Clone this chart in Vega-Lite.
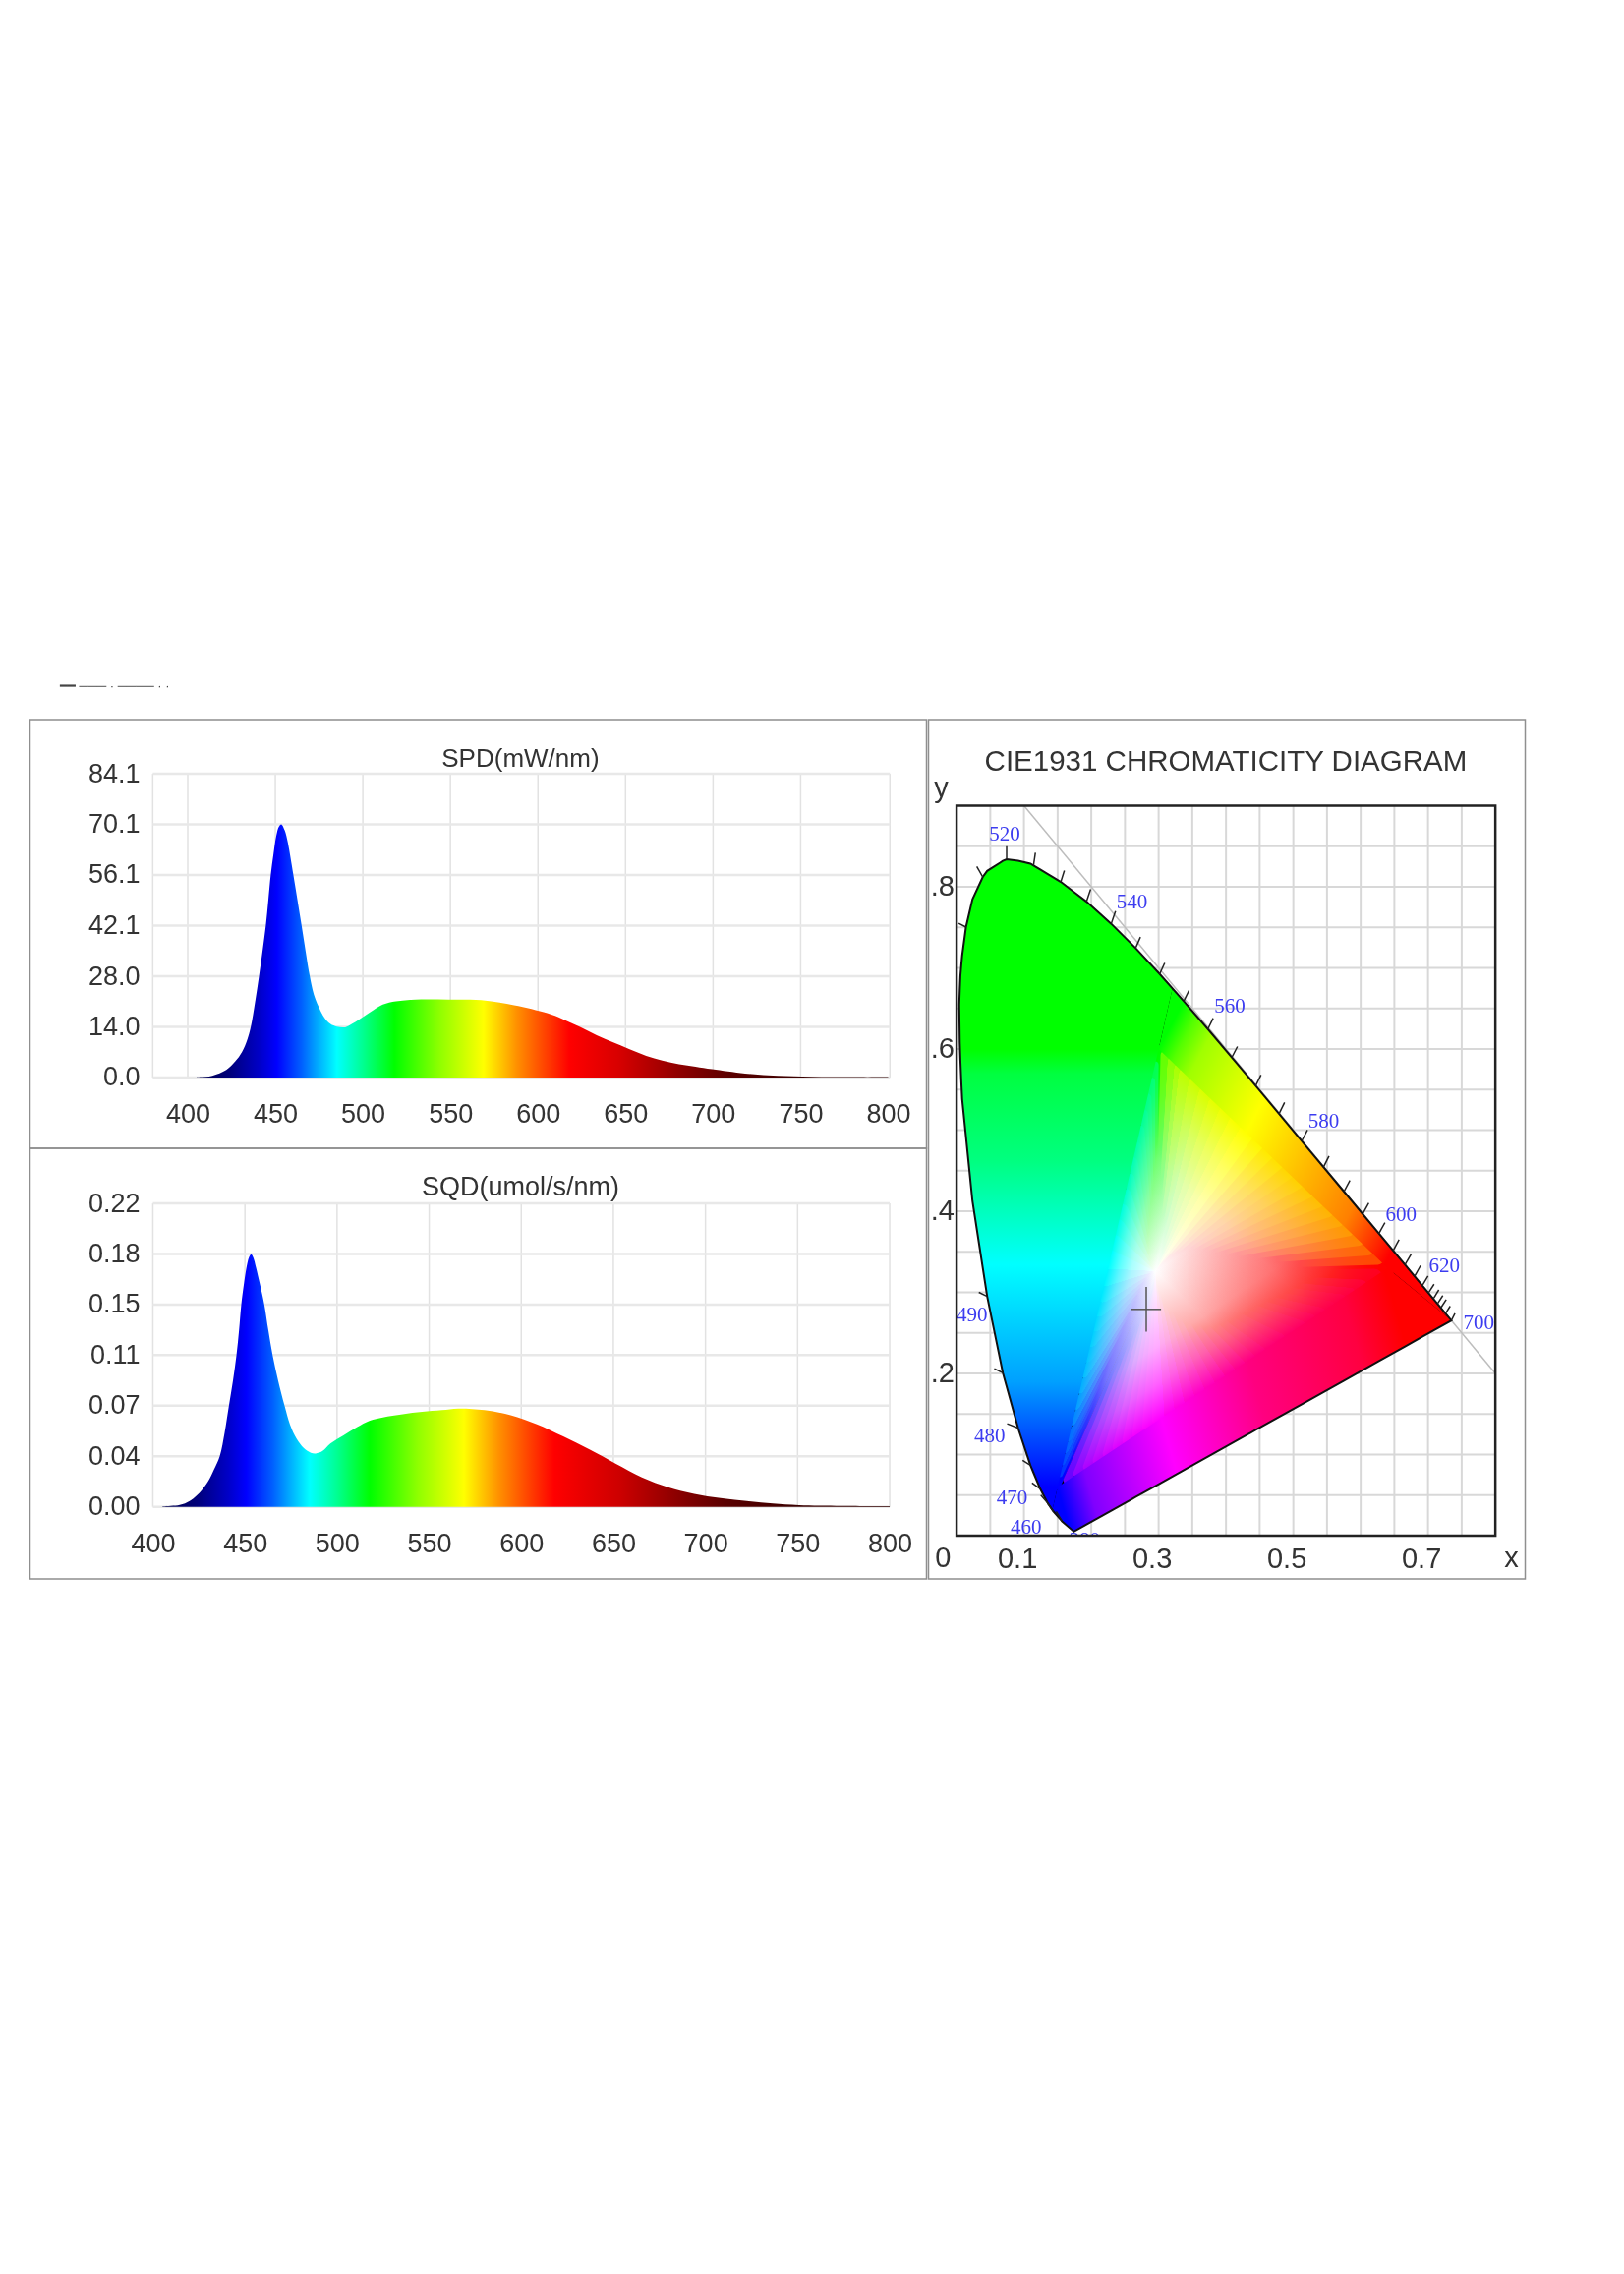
{
"$schema":"https://vega.github.io/schema/vega-lite/v6.json",
"background":"#ffffff",
"padding":{"left":29.5,"top":690,"right":0,"bottom":0},
"config":{"view":{"stroke":"#8f8f8f","strokeWidth":1.5},"axis":{"labelFont":"Liberation Sans","labelFontSize":27,"labelColor":"#333333","domain":false,"ticks":false,"grid":false,"title":null,"labelPadding":0,"labelOverlap":false,"labelFlush":false}},
"datasets":{
"spd":[{"nm":405,"val":0},{"nm":407,"val":0.1},{"nm":414,"val":0.5},{"nm":422,"val":2.1},{"nm":427,"val":4.4},{"nm":431,"val":7.1},{"nm":434,"val":10.5},{"nm":436,"val":14},{"nm":438.5,"val":21},{"nm":440.7,"val":28},{"nm":442.7,"val":35},{"nm":444.6,"val":42.1},{"nm":446,"val":49},{"nm":447.4,"val":56.1},{"nm":449,"val":62},{"nm":450.6,"val":67},{"nm":452,"val":69.4},{"nm":453.4,"val":70.1},{"nm":455.3,"val":68.5},{"nm":457.2,"val":65},{"nm":458.7,"val":60.8},{"nm":460.3,"val":56.1},{"nm":462.7,"val":49},{"nm":465,"val":42.1},{"nm":467.3,"val":35},{"nm":469.7,"val":28},{"nm":472,"val":23},{"nm":475,"val":19.3},{"nm":478,"val":16.6},{"nm":481.5,"val":14.8},{"nm":485.2,"val":14.1},{"nm":489.9,"val":13.9},{"nm":493.7,"val":14.8},{"nm":498.3,"val":16.2},{"nm":504,"val":18},{"nm":511.4,"val":20.2},{"nm":518.9,"val":21.1},{"nm":530,"val":21.6},{"nm":548.9,"val":21.6},{"nm":567.6,"val":21.4},{"nm":586.4,"val":20},{"nm":605.3,"val":17.8},{"nm":614,"val":16.2},{"nm":624,"val":14},{"nm":633.5,"val":11.7},{"nm":643,"val":9.7},{"nm":652,"val":7.9},{"nm":661.8,"val":6},{"nm":671,"val":4.7},{"nm":680.6,"val":3.7},{"nm":690,"val":3},{"nm":699.5,"val":2.3},{"nm":718.3,"val":1.1},{"nm":737,"val":0.45},{"nm":756,"val":0.2},{"nm":780,"val":0.1},{"nm":800,"val":0.1}],
"sqd":[{"nm":405,"val":0},{"nm":405.7,"val":0.0003},{"nm":414.6,"val":0.0014},{"nm":420,"val":0.0043},{"nm":425.3,"val":0.0102},{"nm":430,"val":0.0185},{"nm":433,"val":0.0265},{"nm":436.3,"val":0.0367},{"nm":439,"val":0.054},{"nm":441.3,"val":0.0733},{"nm":443.5,"val":0.0915},{"nm":445.4,"val":0.11},{"nm":446.8,"val":0.128},{"nm":448,"val":0.1467},{"nm":449.6,"val":0.163},{"nm":451.2,"val":0.176},{"nm":452.4,"val":0.1815},{"nm":453.4,"val":0.1832},{"nm":454.6,"val":0.1805},{"nm":455.9,"val":0.174},{"nm":458.2,"val":0.161},{"nm":460.5,"val":0.1467},{"nm":462.7,"val":0.128},{"nm":465,"val":0.11},{"nm":468,"val":0.0915},{"nm":471.5,"val":0.0733},{"nm":474.5,"val":0.0595},{"nm":478,"val":0.0495},{"nm":482,"val":0.0425},{"nm":485.8,"val":0.0392},{"nm":488.4,"val":0.0387},{"nm":492,"val":0.0404},{"nm":496.4,"val":0.0459},{"nm":503.5,"val":0.0518},{"nm":510.7,"val":0.0577},{"nm":517.8,"val":0.0625},{"nm":524.9,"val":0.0649},{"nm":535.6,"val":0.0672},{"nm":546.2,"val":0.0689},{"nm":556.9,"val":0.0701},{"nm":565.8,"val":0.0713},{"nm":580,"val":0.0701},{"nm":594.3,"val":0.0665},{"nm":608.5,"val":0.0599},{"nm":622.8,"val":0.0511},{"nm":637,"val":0.0416},{"nm":651.2,"val":0.0314},{"nm":665.5,"val":0.0214},{"nm":679.7,"val":0.0143},{"nm":693.9,"val":0.0095},{"nm":708.2,"val":0.0064},{"nm":722.4,"val":0.0043},{"nm":736.6,"val":0.0024},{"nm":750.8,"val":0.0012},{"nm":774,"val":0.0007},{"nm":800,"val":0.0005}],
"gamut":[{"cx":0.0039,"cy":0.6548,"cy2":0.6548},{"cx":0.0047,"cy":0.672,"cy2":0.608},{"cx":0.0056,"cy":0.69,"cy2":0.586},{"cx":0.0069,"cy":0.703,"cy2":0.561},{"cx":0.0082,"cy":0.715,"cy2":0.5384},{"cx":0.0139,"cy":0.7502,"cy2":0.4916},{"cx":0.0235,"cy":0.7845,"cy2":0.4127},{"cx":0.0389,"cy":0.812,"cy2":0.3299},{"cx":0.0454,"cy":0.8195,"cy2":0.295},{"cx":0.0687,"cy":0.8318,"cy2":0.2007},{"cx":0.0743,"cy":0.8338,"cy2":0.1839},{"cx":0.0913,"cy":0.832,"cy2":0.1327},{"cx":0.1096,"cy":0.8285,"cy2":0.0868},{"cx":0.1142,"cy":0.8262,"cy2":0.0776},{"cx":0.1241,"cy":0.8212,"cy2":0.0578},{"cx":0.1355,"cy":0.8155,"cy2":0.0399},{"cx":0.144,"cy":0.8112,"cy2":0.0297},{"cx":0.1547,"cy":0.8059,"cy2":0.0195},{"cx":0.1566,"cy":0.8047,"cy2":0.0177},{"cx":0.1741,"cy":0.7935,"cy2":0.005},{"cx":0.1929,"cy":0.7816,"cy2":0.0137},{"cx":0.2296,"cy":0.7543,"cy2":0.0308},{"cx":0.2658,"cy":0.7243,"cy2":0.0476},{"cx":0.3016,"cy":0.6923,"cy2":0.0642},{"cx":0.3373,"cy":0.6589,"cy2":0.0808},{"cx":0.3731,"cy":0.6245,"cy2":0.0974},{"cx":0.4441,"cy":0.5547,"cy2":0.1304},{"cx":0.5125,"cy":0.4866,"cy2":0.1621},{"cx":0.5752,"cy":0.4242,"cy2":0.1912},{"cx":0.627,"cy":0.3725,"cy2":0.2153},{"cx":0.6658,"cy":0.334,"cy2":0.2333},{"cx":0.6915,"cy":0.3083,"cy2":0.2452},{"cx":0.7079,"cy":0.292,"cy2":0.2528},{"cx":0.7347,"cy":0.2653,"cy2":0.2653}],
"outerLeft":[{"cx":0.0039,"cy":0.6548,"cy2":0.6548},{"cx":0.0047,"cy":0.672,"cy2":0.608},{"cx":0.0056,"cy":0.69,"cy2":0.586},{"cx":0.0069,"cy":0.703,"cy2":0.561},{"cx":0.0082,"cy":0.715,"cy2":0.5384},{"cx":0.0139,"cy":0.7502,"cy2":0.4916},{"cx":0.0235,"cy":0.7845,"cy2":0.4127},{"cx":0.0389,"cy":0.812,"cy2":0.3299},{"cx":0.0454,"cy":0.8195,"cy2":0.295},{"cx":0.0687,"cy":0.8318,"cy2":0.2007},{"cx":0.0743,"cy":0.8338,"cy2":0.1839},{"cx":0.0913,"cy":0.832,"cy2":0.1327},{"cx":0.1096,"cy":0.8285,"cy2":0.0868},{"cx":0.1142,"cy":0.8262,"cy2":0.0776},{"cx":0.1241,"cy":0.8212,"cy2":0.0578},{"cx":0.1355,"cy":0.8155,"cy2":0.0399},{"cx":0.1423,"cy":0.8121,"cy2":0.032},{"cx":0.1547,"cy":0.8059,"cy2":0.0769},{"cx":0.1929,"cy":0.7816,"cy2":0.2144},{"cx":0.2296,"cy":0.7543,"cy2":0.3466},{"cx":0.2658,"cy":0.7243,"cy2":0.4769},{"cx":0.3,"cy":0.6938,"cy2":0.6},{"cx":0.3205,"cy":0.6746,"cy2":0.6746}],
"outerRight":[{"cx":0.3,"cy":0.6,"cy2":0.6},{"cx":0.3205,"cy":0.6746,"cy2":0.5837},{"cx":0.3373,"cy":0.6589,"cy2":0.5703},{"cx":0.3731,"cy":0.6245,"cy2":0.5419},{"cx":0.4441,"cy":0.5547,"cy2":0.4855},{"cx":0.5125,"cy":0.4866,"cy2":0.4312},{"cx":0.5752,"cy":0.4242,"cy2":0.3815},{"cx":0.627,"cy":0.3725,"cy2":0.3403},{"cx":0.64,"cy":0.3596,"cy2":0.33},{"cx":0.6658,"cy":0.334,"cy2":0.3124},{"cx":0.6915,"cy":0.3083,"cy2":0.2948},{"cx":0.7079,"cy":0.292,"cy2":0.2836},{"cx":0.7347,"cy":0.2653,"cy2":0.2653}],
"outerBottom":[{"cx":0.1423,"cy":0.032,"cy2":0.032},{"cx":0.144,"cy":0.0384,"cy2":0.0297},{"cx":0.15,"cy":0.06,"cy2":0.024},{"cx":0.1566,"cy":0.0636,"cy2":0.0177},{"cx":0.1741,"cy":0.0733,"cy2":0.005},{"cx":0.1929,"cy":0.0836,"cy2":0.0137},{"cx":0.2658,"cy":0.1238,"cy2":0.0476},{"cx":0.3731,"cy":0.1829,"cy2":0.0974},{"cx":0.4441,"cy":0.2221,"cy2":0.1304},{"cx":0.5125,"cy":0.2598,"cy2":0.1621},{"cx":0.5752,"cy":0.2943,"cy2":0.1912},{"cx":0.64,"cy":0.33,"cy2":0.2213},{"cx":0.6915,"cy":0.2948,"cy2":0.2452},{"cx":0.7347,"cy":0.2653,"cy2":0.2653}],
"rays":[
{"hue":0,"t":0,"cx":0.295,"cy":0.326},{"hue":0,"t":0.7,"cx":0.64,"cy":0.33},{"hue":8,"t":0,"cx":0.295,"cy":0.326},{"hue":8,"t":0.6,"cx":0.625,"cy":0.3419},{"hue":15,"t":0,"cx":0.295,"cy":0.326},{"hue":15,"t":0.62,"cx":0.61,"cy":0.3538},{"hue":22,"t":0,"cx":0.295,"cy":0.326},{"hue":22,"t":0.64,"cx":0.595,"cy":0.3657},{"hue":28,"t":0,"cx":0.295,"cy":0.326},{"hue":28,"t":0.66,"cx":0.58,"cy":0.3776},{"hue":32,"t":0,"cx":0.295,"cy":0.326},{"hue":32,"t":0.68,"cx":0.565,"cy":0.3896},{"hue":36,"t":0,"cx":0.295,"cy":0.326},{"hue":36,"t":0.7,"cx":0.55,"cy":0.4015},{"hue":39,"t":0,"cx":0.295,"cy":0.326},{"hue":39,"t":0.72,"cx":0.535,"cy":0.4134},{"hue":42,"t":0,"cx":0.295,"cy":0.326},{"hue":42,"t":0.72,"cx":0.52,"cy":0.4253},{"hue":45,"t":0,"cx":0.295,"cy":0.326},{"hue":45,"t":0.74,"cx":0.505,"cy":0.4372},{"hue":47,"t":0,"cx":0.295,"cy":0.326},{"hue":47,"t":0.75,"cx":0.49,"cy":0.4491},{"hue":50,"t":0,"cx":0.295,"cy":0.326},{"hue":50,"t":0.75,"cx":0.475,"cy":0.461},{"hue":53,"t":0,"cx":0.295,"cy":0.326},{"hue":53,"t":0.76,"cx":0.46,"cy":0.4729},{"hue":57,"t":0,"cx":0.295,"cy":0.326},{"hue":57,"t":0.76,"cx":0.445,"cy":0.4848},{"hue":60,"t":0,"cx":0.295,"cy":0.326},{"hue":60,"t":0.76,"cx":0.43,"cy":0.4967},{"hue":63,"t":0,"cx":0.295,"cy":0.326},{"hue":63,"t":0.76,"cx":0.415,"cy":0.5087},{"hue":67,"t":0,"cx":0.295,"cy":0.326},{"hue":67,"t":0.75,"cx":0.4,"cy":0.5206},{"hue":71,"t":0,"cx":0.295,"cy":0.326},{"hue":71,"t":0.74,"cx":0.385,"cy":0.5325},{"hue":75,"t":0,"cx":0.295,"cy":0.326},{"hue":75,"t":0.72,"cx":0.37,"cy":0.5444},{"hue":80,"t":0,"cx":0.295,"cy":0.326},{"hue":80,"t":0.7,"cx":0.355,"cy":0.5563},{"hue":85,"t":0,"cx":0.295,"cy":0.326},{"hue":85,"t":0.66,"cx":0.34,"cy":0.5682},{"hue":92,"t":0,"cx":0.295,"cy":0.326},{"hue":92,"t":0.45,"cx":0.33,"cy":0.5761},{"hue":100,"t":0,"cx":0.295,"cy":0.326},{"hue":100,"t":0.44,"cx":0.32,"cy":0.5841},{"hue":110,"t":0,"cx":0.295,"cy":0.326},{"hue":110,"t":0.44,"cx":0.31,"cy":0.5921},{"hue":120,"t":0,"cx":0.295,"cy":0.326},{"hue":120,"t":0.36,"cx":0.3,"cy":0.6},
{"hue":128,"t":0,"cx":0.295,"cy":0.326},{"hue":128,"t":0.34,"cx":0.2944,"cy":0.58},{"hue":135,"t":0,"cx":0.295,"cy":0.326},{"hue":135,"t":0.36,"cx":0.2889,"cy":0.56},{"hue":139,"t":0,"cx":0.295,"cy":0.326},{"hue":139,"t":0.37,"cx":0.2833,"cy":0.54},{"hue":142,"t":0,"cx":0.295,"cy":0.326},{"hue":142,"t":0.39,"cx":0.2778,"cy":0.52},{"hue":145,"t":0,"cx":0.295,"cy":0.326},{"hue":145,"t":0.42,"cx":0.2722,"cy":0.5},{"hue":147,"t":0,"cx":0.295,"cy":0.326},{"hue":147,"t":0.45,"cx":0.2667,"cy":0.48},{"hue":150,"t":0,"cx":0.295,"cy":0.326},{"hue":150,"t":0.49,"cx":0.2611,"cy":0.46},{"hue":153,"t":0,"cx":0.295,"cy":0.326},{"hue":153,"t":0.53,"cx":0.2556,"cy":0.44},{"hue":158,"t":0,"cx":0.295,"cy":0.326},{"hue":158,"t":0.59,"cx":0.25,"cy":0.42},{"hue":163,"t":0,"cx":0.295,"cy":0.326},{"hue":163,"t":0.68,"cx":0.2444,"cy":0.4},{"hue":168,"t":0,"cx":0.295,"cy":0.326},{"hue":168,"t":0.74,"cx":0.2389,"cy":0.38},{"hue":174,"t":0,"cx":0.295,"cy":0.326},{"hue":174,"t":0.82,"cx":0.2333,"cy":0.36},{"hue":179,"t":0,"cx":0.295,"cy":0.326},{"hue":179,"t":0.9,"cx":0.2278,"cy":0.34},{"hue":184,"t":0,"cx":0.295,"cy":0.326},{"hue":184,"t":0.95,"cx":0.2222,"cy":0.32},{"hue":188,"t":0,"cx":0.295,"cy":0.326},{"hue":188,"t":0.95,"cx":0.2167,"cy":0.3},{"hue":191,"t":0,"cx":0.295,"cy":0.326},{"hue":191,"t":0.78,"cx":0.2111,"cy":0.28},{"hue":194,"t":0,"cx":0.295,"cy":0.326},{"hue":194,"t":0.66,"cx":0.2056,"cy":0.26},{"hue":197,"t":0,"cx":0.295,"cy":0.326},{"hue":197,"t":0.58,"cx":0.2,"cy":0.24},{"hue":200,"t":0,"cx":0.295,"cy":0.326},{"hue":200,"t":0.5,"cx":0.1944,"cy":0.22},{"hue":202,"t":0,"cx":0.295,"cy":0.326},{"hue":202,"t":0.42,"cx":0.1889,"cy":0.2},{"hue":207,"t":0,"cx":0.295,"cy":0.326},{"hue":207,"t":0.38,"cx":0.1833,"cy":0.18},{"hue":212,"t":0,"cx":0.295,"cy":0.326},{"hue":212,"t":0.34,"cx":0.1778,"cy":0.16},{"hue":218,"t":0,"cx":0.295,"cy":0.326},{"hue":218,"t":0.3,"cx":0.1722,"cy":0.14},{"hue":225,"t":0,"cx":0.295,"cy":0.326},{"hue":225,"t":0.27,"cx":0.1667,"cy":0.12},{"hue":228,"t":0,"cx":0.295,"cy":0.326},{"hue":228,"t":0.22,"cx":0.1625,"cy":0.105},{"hue":232,"t":0,"cx":0.295,"cy":0.326},{"hue":232,"t":0.21,"cx":0.1583,"cy":0.09},{"hue":236,"t":0,"cx":0.295,"cy":0.326},{"hue":236,"t":0.2,"cx":0.1542,"cy":0.075},{"hue":240,"t":0,"cx":0.295,"cy":0.326},{"hue":240,"t":0.22,"cx":0.15,"cy":0.06},
{"hue":252,"t":0,"cx":0.295,"cy":0.326},{"hue":252,"t":0.4,"cx":0.165,"cy":0.0683},{"hue":262,"t":0,"cx":0.295,"cy":0.326},{"hue":262,"t":0.42,"cx":0.18,"cy":0.0765},{"hue":270,"t":0,"cx":0.295,"cy":0.326},{"hue":270,"t":0.45,"cx":0.195,"cy":0.0848},{"hue":276,"t":0,"cx":0.295,"cy":0.326},{"hue":276,"t":0.48,"cx":0.21,"cy":0.0931},{"hue":282,"t":0,"cx":0.295,"cy":0.326},{"hue":282,"t":0.5,"cx":0.225,"cy":0.1013},{"hue":287,"t":0,"cx":0.295,"cy":0.326},{"hue":287,"t":0.52,"cx":0.24,"cy":0.1096},{"hue":292,"t":0,"cx":0.295,"cy":0.326},{"hue":292,"t":0.54,"cx":0.255,"cy":0.1179},{"hue":295,"t":0,"cx":0.295,"cy":0.326},{"hue":295,"t":0.56,"cx":0.27,"cy":0.1261},{"hue":298,"t":0,"cx":0.295,"cy":0.326},{"hue":298,"t":0.58,"cx":0.285,"cy":0.1344},{"hue":300,"t":0,"cx":0.295,"cy":0.326},{"hue":300,"t":0.6,"cx":0.3,"cy":0.1427},{"hue":304,"t":0,"cx":0.295,"cy":0.326},{"hue":304,"t":0.61,"cx":0.315,"cy":0.1509},{"hue":307,"t":0,"cx":0.295,"cy":0.326},{"hue":307,"t":0.62,"cx":0.33,"cy":0.1592},{"hue":311,"t":0,"cx":0.295,"cy":0.326},{"hue":311,"t":0.64,"cx":0.345,"cy":0.1674},{"hue":314,"t":0,"cx":0.295,"cy":0.326},{"hue":314,"t":0.65,"cx":0.36,"cy":0.1757},{"hue":317,"t":0,"cx":0.295,"cy":0.326},{"hue":317,"t":0.66,"cx":0.375,"cy":0.184},{"hue":320,"t":0,"cx":0.295,"cy":0.326},{"hue":320,"t":0.67,"cx":0.39,"cy":0.1922},{"hue":324,"t":0,"cx":0.295,"cy":0.326},{"hue":324,"t":0.67,"cx":0.405,"cy":0.2005},{"hue":327,"t":0,"cx":0.295,"cy":0.326},{"hue":327,"t":0.67,"cx":0.42,"cy":0.2088},{"hue":330,"t":0,"cx":0.295,"cy":0.326},{"hue":330,"t":0.67,"cx":0.435,"cy":0.217},{"hue":332,"t":0,"cx":0.295,"cy":0.326},{"hue":332,"t":0.65,"cx":0.45,"cy":0.2253},{"hue":334,"t":0,"cx":0.295,"cy":0.326},{"hue":334,"t":0.62,"cx":0.465,"cy":0.2336},{"hue":335,"t":0,"cx":0.295,"cy":0.326},{"hue":335,"t":0.6,"cx":0.48,"cy":0.2418},{"hue":337,"t":0,"cx":0.295,"cy":0.326},{"hue":337,"t":0.58,"cx":0.495,"cy":0.2501},{"hue":338,"t":0,"cx":0.295,"cy":0.326},{"hue":338,"t":0.56,"cx":0.51,"cy":0.2584},{"hue":340,"t":0,"cx":0.295,"cy":0.326},{"hue":340,"t":0.54,"cx":0.525,"cy":0.2666},{"hue":342,"t":0,"cx":0.295,"cy":0.326},{"hue":342,"t":0.52,"cx":0.54,"cy":0.2749},{"hue":344,"t":0,"cx":0.295,"cy":0.326},{"hue":344,"t":0.5,"cx":0.555,"cy":0.2832},{"hue":345,"t":0,"cx":0.295,"cy":0.326},{"hue":345,"t":0.5,"cx":0.57,"cy":0.2914},{"hue":347,"t":0,"cx":0.295,"cy":0.326},{"hue":347,"t":0.48,"cx":0.585,"cy":0.2997},{"hue":350,"t":0,"cx":0.295,"cy":0.326},{"hue":350,"t":0.6,"cx":0.6,"cy":0.308},{"hue":355,"t":0,"cx":0.295,"cy":0.326},{"hue":355,"t":0.75,"cx":0.62,"cy":0.319}],
"ticks":[{"cx":0.0743,"cy":0.8338,"cx2":0.0743,"cy2":0.85},{"cx":0.1142,"cy":0.8262,"cx2":0.117,"cy2":0.842},{"cx":0.1547,"cy":0.8059,"cx2":0.16,"cy2":0.82},{"cx":0.1929,"cy":0.7816,"cx2":0.199,"cy2":0.797},{"cx":0.2296,"cy":0.7543,"cx2":0.236,"cy2":0.77},{"cx":0.2658,"cy":0.7243,"cx2":0.273,"cy2":0.738},{"cx":0.3016,"cy":0.6923,"cx2":0.309,"cy2":0.706},{"cx":0.3373,"cy":0.6589,"cx2":0.345,"cy2":0.672},{"cx":0.3731,"cy":0.6245,"cx2":0.381,"cy2":0.638},{"cx":0.4087,"cy":0.5896,"cx2":0.417,"cy2":0.603},{"cx":0.4441,"cy":0.5547,"cx2":0.452,"cy2":0.568},{"cx":0.4788,"cy":0.5202,"cx2":0.487,"cy2":0.534},{"cx":0.5125,"cy":0.4866,"cx2":0.521,"cy2":0.5},{"cx":0.5448,"cy":0.4544,"cx2":0.553,"cy2":0.468},{"cx":0.5752,"cy":0.4242,"cx2":0.584,"cy2":0.438},{"cx":0.6029,"cy":0.3965,"cx2":0.612,"cy2":0.41},{"cx":0.627,"cy":0.3725,"cx2":0.636,"cy2":0.386},{"cx":0.6482,"cy":0.3514,"cx2":0.657,"cy2":0.365},{"cx":0.6658,"cy":0.334,"cx2":0.675,"cy2":0.347},{"cx":0.6801,"cy":0.3197,"cx2":0.689,"cy2":0.333},{"cx":0.6915,"cy":0.3083,"cx2":0.7,"cy2":0.32},{"cx":0.7006,"cy":0.2993,"cx2":0.709,"cy2":0.31},{"cx":0.7079,"cy":0.292,"cx2":0.716,"cy2":0.303},{"cx":0.714,"cy":0.2859,"cx2":0.722,"cy2":0.296},{"cx":0.719,"cy":0.2809,"cx2":0.727,"cy2":0.291},{"cx":0.726,"cy":0.274,"cx2":0.733,"cy2":0.283},{"cx":0.7347,"cy":0.2653,"cx2":0.74,"cy2":0.274},{"cx":0.0389,"cy":0.812,"cx2":0.03,"cy2":0.825},{"cx":0.0139,"cy":0.7502,"cx2":0.003,"cy2":0.755},{"cx":0.0454,"cy":0.295,"cx2":0.033,"cy2":0.3},{"cx":0.0687,"cy":0.2007,"cx2":0.056,"cy2":0.206},{"cx":0.0913,"cy":0.1327,"cx2":0.075,"cy2":0.138},{"cx":0.1096,"cy":0.0868,"cx2":0.098,"cy2":0.093},{"cx":0.1241,"cy":0.0578,"cx2":0.112,"cy2":0.065},{"cx":0.1355,"cy":0.0399,"cx2":0.125,"cy2":0.05},{"cx":0.144,"cy":0.0297,"cx2":0.135,"cy2":0.04},{"cx":0.1566,"cy":0.0177,"cx2":0.148,"cy2":0.03}],
"cieLabels":[{"cx":0.0714,"cy":0.8643,"t":"520"},{"cx":0.2604,"cy":0.781,"t":"540"},{"cx":0.4058,"cy":0.652,"t":"560"},{"cx":0.545,"cy":0.5107,"t":"580"},{"cx":0.66,"cy":0.395,"t":"600"},{"cx":0.7243,"cy":0.332,"t":"620"},{"cx":0.7752,"cy":0.2618,"t":"700"},{"cx":0.023,"cy":0.2713,"t":"490"},{"cx":0.049,"cy":0.1224,"t":"480"},{"cx":0.0823,"cy":0.046,"t":"470"},{"cx":0.103,"cy":0.0103,"t":"460"},{"cx":0.19,"cy":-0.006,"t":"380"}]
},
"hconcat":[
{"vconcat":[
{"width":912,"height":436,
"encoding":{"x":{"field":"nm","type":"quantitative","scale":{"domain":[309.9,821.9],"nice":false,"zero":false},"axis":{"values":[400,450,500,550,600,650,700,750,800],"format":"d","offset":-35,"labelBaseline":"middle"}},"y":{"field":"val","type":"quantitative","scale":{"domain":[-19.6,99.07],"nice":false,"zero":false},"axis":{"values":[0,14.02,28.03,42.06,56.07,70.08,84.1],"format":".1f","offset":-111.5,"labelBaseline":"middle","labelAlign":"right"}}},
"layer":[
{"data":{"values":[{"nm":380,"nm2":380,"val":0,"val2":84.1},{"nm":400,"nm2":400,"val":0,"val2":84.1},{"nm":450,"nm2":450,"val":0,"val2":84.1},{"nm":500,"nm2":500,"val":0,"val2":84.1},{"nm":550,"nm2":550,"val":0,"val2":84.1},{"nm":600,"nm2":600,"val":0,"val2":84.1},{"nm":650,"nm2":650,"val":0,"val2":84.1},{"nm":700,"nm2":700,"val":0,"val2":84.1},{"nm":750,"nm2":750,"val":0,"val2":84.1},{"nm":801,"nm2":801,"val":0,"val2":84.1}]},"mark":{"type":"rule","color":"#e2e2e2","strokeWidth":1.5},"encoding":{"x2":{"field":"nm2"},"y2":{"field":"val2"}}},
{"data":{"values":[{"nm":380,"nm2":801,"val":0,"val2":0},{"nm":380,"nm2":801,"val":14.02,"val2":14.02},{"nm":380,"nm2":801,"val":28.03,"val2":28.03},{"nm":380,"nm2":801,"val":42.06,"val2":42.06},{"nm":380,"nm2":801,"val":56.07,"val2":56.07},{"nm":380,"nm2":801,"val":70.08,"val2":70.08},{"nm":380,"nm2":801,"val":84.1,"val2":84.1}]},"mark":{"type":"rule","color":"#e8e8e8","strokeWidth":2.5},"encoding":{"x2":{"field":"nm2"},"y2":{"field":"val2"}}},
{"data":{"name":"spd"},"mark":{"type":"area","interpolate":"catmull-rom","fill":{"gradient":"linear","x1":0,"y1":0,"x2":1,"y2":0,"stops":[{"offset":0,"color":"#00004a"},{"offset":0.048,"color":"#00007a"},{"offset":0.091,"color":"#0000c8"},{"offset":0.116,"color":"#0000ff"},{"offset":0.152,"color":"#0060ff"},{"offset":0.177,"color":"#00b0ff"},{"offset":0.203,"color":"#00ffff"},{"offset":0.241,"color":"#00ff90"},{"offset":0.286,"color":"#00ff00"},{"offset":0.352,"color":"#90ff00"},{"offset":0.415,"color":"#ffff00"},{"offset":0.463,"color":"#ff9000"},{"offset":0.539,"color":"#ff0000"},{"offset":0.61,"color":"#d80000"},{"offset":0.696,"color":"#900000"},{"offset":0.772,"color":"#5a0000"},{"offset":0.873,"color":"#3a0000"},{"offset":1,"color":"#300000"}]}}},
{"data":{"values":[{"nm":590,"val":88.3,"t":"SPD(mW/nm)"}]},"mark":{"type":"text","font":"Liberation Sans","fontSize":26,"color":"#333333"},"encoding":{"text":{"field":"t"}}},
{"data":{"values":[{"nm":327,"val":108.4,"t":"━━ ─── · ──── · ·"}]},"mark":{"type":"text","font":"Liberation Sans","fontSize":13,"color":"#444444","align":"left"},"encoding":{"text":{"field":"t"}}}
]},
{"width":912,"height":438,
"encoding":{"x":{"field":"nm","type":"quantitative","scale":{"domain":[333.3,820],"nice":false,"zero":false},"axis":{"values":[400,450,500,550,600,650,700,750,800],"format":"d","offset":-36,"labelBaseline":"middle"}},"y":{"field":"val","type":"quantitative","scale":{"domain":[-0.05224,0.25994],"nice":false,"zero":false},"axis":{"values":[0,0.0367,0.0733,0.11,0.1467,0.1833,0.22],"format":".2f","offset":-111.5,"labelBaseline":"middle","labelAlign":"right"}}},
"layer":[
{"data":{"values":[{"nm":400,"nm2":400,"val":0,"val2":0.22},{"nm":450,"nm2":450,"val":0,"val2":0.22},{"nm":500,"nm2":500,"val":0,"val2":0.22},{"nm":550,"nm2":550,"val":0,"val2":0.22},{"nm":600,"nm2":600,"val":0,"val2":0.22},{"nm":650,"nm2":650,"val":0,"val2":0.22},{"nm":700,"nm2":700,"val":0,"val2":0.22},{"nm":750,"nm2":750,"val":0,"val2":0.22},{"nm":800,"nm2":800,"val":0,"val2":0.22}]},"mark":{"type":"rule","color":"#e2e2e2","strokeWidth":1.5},"encoding":{"x2":{"field":"nm2"},"y2":{"field":"val2"}}},
{"data":{"values":[{"nm":400,"nm2":800,"val":0,"val2":0},{"nm":400,"nm2":800,"val":0.0367,"val2":0.0367},{"nm":400,"nm2":800,"val":0.0733,"val2":0.0733},{"nm":400,"nm2":800,"val":0.11,"val2":0.11},{"nm":400,"nm2":800,"val":0.1467,"val2":0.1467},{"nm":400,"nm2":800,"val":0.1833,"val2":0.1833},{"nm":400,"nm2":800,"val":0.22,"val2":0.22}]},"mark":{"type":"rule","color":"#e8e8e8","strokeWidth":2.5},"encoding":{"x2":{"field":"nm2"},"y2":{"field":"val2"}}},
{"data":{"name":"sqd"},"mark":{"type":"area","interpolate":"catmull-rom","fill":{"gradient":"linear","x1":0,"y1":0,"x2":1,"y2":0,"stops":[{"offset":0,"color":"#00004a"},{"offset":0.048,"color":"#00007a"},{"offset":0.091,"color":"#0000c8"},{"offset":0.116,"color":"#0000ff"},{"offset":0.152,"color":"#0060ff"},{"offset":0.177,"color":"#00b0ff"},{"offset":0.203,"color":"#00ffff"},{"offset":0.241,"color":"#00ff90"},{"offset":0.286,"color":"#00ff00"},{"offset":0.352,"color":"#90ff00"},{"offset":0.415,"color":"#ffff00"},{"offset":0.463,"color":"#ff9000"},{"offset":0.539,"color":"#ff0000"},{"offset":0.63,"color":"#cc0000"},{"offset":0.722,"color":"#800000"},{"offset":0.775,"color":"#5a0000"},{"offset":0.873,"color":"#3a0000"},{"offset":1,"color":"#300000"}]}}},
{"data":{"values":[{"nm":599.6,"val":0.2312,"t":"SQD(umol/s/nm)"}]},"mark":{"type":"text","font":"Liberation Sans","fontSize":27,"color":"#333333"},"encoding":{"text":{"field":"t"}}}
]}
],"spacing":0,"bounds":"flush"},
{"width":607,"height":874,
"encoding":{"x":{"field":"cx","type":"quantitative","scale":{"domain":[-0.04175,0.8443],"nice":false,"zero":false},"axis":{"values":[0.1,0.3,0.5,0.7],"format":".1f","offset":-21,"labelBaseline":"middle","labelOffset":-7,"labelFontSize":29}},"y":{"field":"cy","type":"quantitative","scale":{"domain":[-0.0533,1.00594],"nice":false,"zero":false},"axis":{"values":[0.2,0.4,0.6,0.8],"labelExpr":"replace(format(datum.value,'.1f'),'0.','.')","offset":-26,"labelBaseline":"middle","labelAlign":"right","labelFontSize":29}}},
"layer":[
{"data":{"values":[{"cx":0.05,"cx2":0.05,"cy":0,"cy2":0.9},{"cx":0.1,"cx2":0.1,"cy":0,"cy2":0.9},{"cx":0.15,"cx2":0.15,"cy":0,"cy2":0.9},{"cx":0.2,"cx2":0.2,"cy":0,"cy2":0.9},{"cx":0.25,"cx2":0.25,"cy":0,"cy2":0.9},{"cx":0.3,"cx2":0.3,"cy":0,"cy2":0.9},{"cx":0.35,"cx2":0.35,"cy":0,"cy2":0.9},{"cx":0.4,"cx2":0.4,"cy":0,"cy2":0.9},{"cx":0.45,"cx2":0.45,"cy":0,"cy2":0.9},{"cx":0.5,"cx2":0.5,"cy":0,"cy2":0.9},{"cx":0.55,"cx2":0.55,"cy":0,"cy2":0.9},{"cx":0.6,"cx2":0.6,"cy":0,"cy2":0.9},{"cx":0.65,"cx2":0.65,"cy":0,"cy2":0.9},{"cx":0.7,"cx2":0.7,"cy":0,"cy2":0.9},{"cx":0.75,"cx2":0.75,"cy":0,"cy2":0.9},{"cx":0,"cx2":0.8,"cy":0.05,"cy2":0.05},{"cx":0,"cx2":0.8,"cy":0.1,"cy2":0.1},{"cx":0,"cx2":0.8,"cy":0.15,"cy2":0.15},{"cx":0,"cx2":0.8,"cy":0.2,"cy2":0.2},{"cx":0,"cx2":0.8,"cy":0.25,"cy2":0.25},{"cx":0,"cx2":0.8,"cy":0.3,"cy2":0.3},{"cx":0,"cx2":0.8,"cy":0.35,"cy2":0.35},{"cx":0,"cx2":0.8,"cy":0.4,"cy2":0.4},{"cx":0,"cx2":0.8,"cy":0.45,"cy2":0.45},{"cx":0,"cx2":0.8,"cy":0.5,"cy2":0.5},{"cx":0,"cx2":0.8,"cy":0.55,"cy2":0.55},{"cx":0,"cx2":0.8,"cy":0.6,"cy2":0.6},{"cx":0,"cx2":0.8,"cy":0.65,"cy2":0.65},{"cx":0,"cx2":0.8,"cy":0.7,"cy2":0.7},{"cx":0,"cx2":0.8,"cy":0.75,"cy2":0.75},{"cx":0,"cx2":0.8,"cy":0.8,"cy2":0.8},{"cx":0,"cx2":0.8,"cy":0.85,"cy2":0.85}]},"mark":{"type":"rule","color":"#d8d8d8","strokeWidth":2},"encoding":{"x2":{"field":"cx2"},"y2":{"field":"cy2"}}},
{"data":{"values":[{"cx":0.1,"cx2":0.8,"cy":0.9,"cy2":0.2}]},"mark":{"type":"rule","color":"#bdbdbd","strokeWidth":1.5},"encoding":{"x2":{"field":"cx2"},"y2":{"field":"cy2"}}},
{"data":{"name":"gamut"},"mark":{"type":"area","fill":"#ffffff"},"encoding":{"y2":{"field":"cy2"}}},
{"data":{"name":"gamut"},"mark":{"type":"area","blend":"multiply","fill":{"gradient":"linear","x1":0.3538,"y1":0.4452,"x2":0.8704,"y2":0.608,"stops":[{"offset":0,"color":"#000000"},{"offset":0.043,"color":"#606060"},{"offset":0.085,"color":"#aaaaaa"},{"offset":0.171,"color":"#ffffff"},{"offset":1,"color":"#ffffff"}]}},"encoding":{"y2":{"field":"cy2"}}},
{"data":{"name":"gamut"},"mark":{"type":"area","blend":"multiply","fill":{"gradient":"linear","x1":0.6219,"y1":0.7287,"x2":0.4051,"y2":0.2823,"stops":[{"offset":0,"color":"#000000"},{"offset":0.1,"color":"#606060"},{"offset":0.2,"color":"#aaaaaa"},{"offset":0.407,"color":"#ffffff"},{"offset":1,"color":"#ffffff"}]}},"encoding":{"y2":{"field":"cy2"}}},
{"data":{"name":"gamut"},"mark":{"type":"area","blend":"multiply","fill":{"gradient":"linear","x1":0.5733,"y1":0.4001,"x2":0.1998,"y2":0.9337,"stops":[{"offset":0,"color":"#000000"},{"offset":0.105,"color":"#606060"},{"offset":0.21,"color":"#aaaaaa"},{"offset":0.422,"color":"#ffffff"},{"offset":1,"color":"#ffffff"}]}},"encoding":{"y2":{"field":"cy2"}}},
{"data":{"name":"rays"},"mark":{"type":"trail","blend":"lighten"},"encoding":{"detail":{"field":"hue","type":"nominal"},"order":{"field":"t","type":"quantitative"},"size":{"field":"t","type":"quantitative","scale":{"domain":[0,1],"range":[0.3,22]},"legend":null},"color":{"field":"hue","type":"quantitative","scale":{"domain":[0,60,120,180,240,300,360],"range":["#ff0000","#ffff00","#00ff00","#00ffff","#0000ff","#ff00ff","#ff0000"]},"legend":null}}},
{"data":{"name":"outerLeft"},"mark":{"type":"area","fill":{"gradient":"linear","x1":0.5,"y1":0,"x2":0.5,"y2":1,"stops":[{"offset":0,"color":"#00ff00"},{"offset":0.292,"color":"#00ff00"},{"offset":0.33,"color":"#00ff40"},{"offset":0.464,"color":"#00ff80"},{"offset":0.623,"color":"#00ffff"},{"offset":0.803,"color":"#00a0ff"},{"offset":0.965,"color":"#0000ff"},{"offset":1,"color":"#0000ff"}]}},"encoding":{"y2":{"field":"cy2"}}},
{"data":{"name":"outerRight"},"mark":{"type":"area","fill":{"gradient":"linear","x1":0,"y1":0.182,"x2":0.865,"y2":0.705,"stops":[{"offset":0,"color":"#00ff00"},{"offset":0.059,"color":"#55ff00"},{"offset":0.129,"color":"#a0ff00"},{"offset":0.382,"color":"#ffff00"},{"offset":0.588,"color":"#ffc000"},{"offset":0.806,"color":"#ff8000"},{"offset":0.985,"color":"#ff0000"},{"offset":1,"color":"#ff0000"}]}},"encoding":{"y2":{"field":"cy2"}}},
{"data":{"name":"outerBottom"},"mark":{"type":"area","fill":{"gradient":"linear","x1":0.013,"y1":0.831,"x2":0.963,"y2":0.653,"stops":[{"offset":0,"color":"#0000ff"},{"offset":0.08,"color":"#8000ff"},{"offset":0.314,"color":"#ff00ff"},{"offset":0.576,"color":"#ff0080"},{"offset":0.865,"color":"#ff0040"},{"offset":0.99,"color":"#ff0000"},{"offset":1,"color":"#ff0000"}]}},"encoding":{"y2":{"field":"cy2"}}},
{"data":{"name":"gamut"},"mark":{"type":"area","fillOpacity":0,"stroke":"#111111","strokeWidth":2},"encoding":{"y2":{"field":"cy2"}}},
{"data":{"name":"ticks"},"mark":{"type":"rule","color":"#222222","strokeWidth":1.5},"encoding":{"x2":{"field":"cx2"},"y2":{"field":"cy2"}}},
{"data":{"values":[{"cx":0.2596,"cx2":0.3036,"cy":0.279,"cy2":0.279},{"cx":0.2816,"cx2":0.2816,"cy":0.2515,"cy2":0.3065}]},"mark":{"type":"rule","color":"#555555","strokeWidth":1.5},"encoding":{"x2":{"field":"cx2"},"y2":{"field":"cy2"}}},
{"data":{"name":"cieLabels"},"mark":{"type":"text","font":"Liberation Serif","fontSize":21,"color":"#3c3cf0"},"encoding":{"text":{"field":"t"}}},
{"data":{"values":[{"cx":0,"cx2":0.8,"cy":-0.014,"cy2":0}]},"mark":{"type":"rect","fill":"#ffffff"},"encoding":{"x2":{"field":"cx2"},"y2":{"field":"cy2"}}},
{"data":{"values":[{"cx":0,"cx2":0.8,"cy":0,"cy2":0.9}]},"mark":{"type":"rect","fillOpacity":0,"stroke":"#222222","strokeWidth":2.5},"encoding":{"x2":{"field":"cx2"},"y2":{"field":"cy2"}}},
{"data":{"values":[{"cx":-0.02,"cy":-0.0279,"t":"0"},{"cx":0.8238,"cy":-0.0279,"t":"x"},{"cx":-0.0228,"cy":0.921,"t":"y"}]},"mark":{"type":"text","font":"Liberation Sans","fontSize":29,"color":"#333333"},"encoding":{"text":{"field":"t"}}},
{"data":{"values":[{"cx":0.3997,"cy":0.9538,"t":"CIE1931 CHROMATICITY DIAGRAM"}]},"mark":{"type":"text","font":"Liberation Sans","fontSize":29.5,"color":"#333333"},"encoding":{"text":{"field":"t"}}}
]}
],"spacing":0
}
